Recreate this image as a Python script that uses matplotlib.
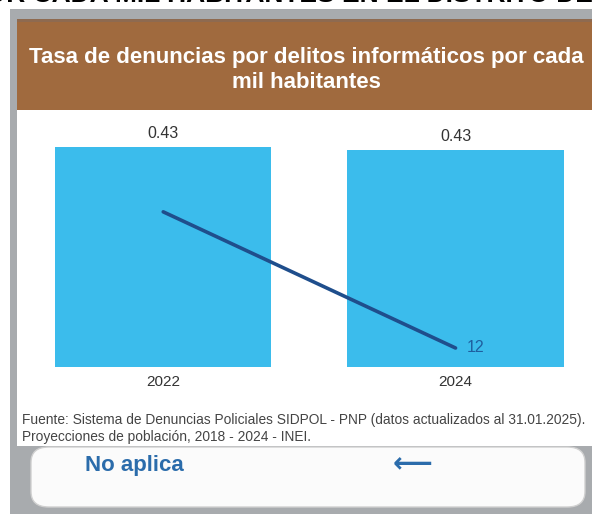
import matplotlib.pyplot as plt
from matplotlib.patches import Rectangle, FancyBboxPatch

years = ['2022', '2024']
tasa = [0.432, 0.426]
tasa_labels = ['0.43', '0.43']
denuncias = [98, 12]

W, H = 592, 514
fig = plt.figure(figsize=(W / 100, H / 100), dpi=100)
fig.patch.set_facecolor('white')
plt.rcParams['font.family'] = ['Liberation Sans', 'DejaVu Sans']


def box(x0, y0, x1, y1, color, **kw):
    # pixel coords, y from top
    r = Rectangle((x0 / W, 1 - y1 / H), (x1 - x0) / W, (y1 - y0) / H,
                  transform=fig.transFigure, facecolor=color, edgecolor='none',
                  zorder=-5, **kw)
    fig.patches.append(r)


# page heading cut off at the top
fig.text(0.5, 1.01, 'S POR CADA MIL HABITANTES EN EL DISTRITO DE ATE', ha='center', va='center',
         fontsize=19, fontweight='bold', color='black')

# gray frame, header and white panel
box(10, 9, W, H, '#a8abae')
box(17, 19, W, 110, '#a06a3e')
box(17, 19, W, 22, '#8e6a50')
box(17, 110, W, 446, 'white')

fig.text(306 / W, 1 - 57 / H, 'Tasa de denuncias por delitos informáticos por cada',
         ha='center', va='center', fontsize=16, fontweight='bold', color='white')
fig.text(306 / W, 1 - 82 / H, 'mil habitantes',
         ha='center', va='center', fontsize=16, fontweight='bold', color='white')

# chart
ax = fig.add_axes([20 / W, 1 - 367 / H, 570 / W, 247 / H])
ax.patch.set_alpha(0)
x = range(len(years))
ax.bar(x, tasa, width=0.74, color='#3bbcec')
for i, v in enumerate(tasa):
    ax.text(i, v + 0.012, tasa_labels[i], ha='center', va='bottom', fontsize=11.5, color='#333333')
ax.set_xlim(-0.49, 1.46)
ax.set_ylim(0, 0.485)
ax.set_xticks(list(x))
ax.set_xticklabels(years, fontsize=11, color='#333333')
ax.tick_params(axis='x', length=0, pad=6)
ax.set_yticks([])
for s in ax.spines.values():
    s.set_visible(False)

ax2 = ax.twinx()
ax2.plot(list(x), denuncias, color='#1f4e8c', linewidth=2.6, solid_capstyle='round')
ax2.text(1 + 0.04, denuncias[1], str(denuncias[1]), ha='left', va='center', fontsize=11.5, color='#1f5f9f')
ax2.set_ylim(0, 156)
ax2.set_yticks([])
for s in ax2.spines.values():
    s.set_visible(False)

# source
fig.text(22 / W, 1 - 420 / H,
         'Fuente: Sistema de Denuncias Policiales SIDPOL - PNP (datos actualizados al 31.01.2025).',
         ha='left', va='center', fontsize=9.9, color='#444444')
fig.text(22 / W, 1 - 437 / H, 'Proyecciones de población, 2018 - 2024 - INEI.',
         ha='left', va='center', fontsize=9.9, color='#444444')

# button
btn = FancyBboxPatch((31 / W, 1 - 507 / H), 554 / W, 60 / H,
                     boxstyle='round,pad=0,rounding_size=0.03', transform=fig.transFigure,
                     facecolor='#fbfbfb', edgecolor='#d0d0d0', linewidth=1, zorder=-4)
fig.patches.append(btn)
fig.text(85 / W, 1 - 466 / H, 'No aplica', ha='left', va='center', fontsize=16,
         fontweight='bold', color='#2b6cab')
fig.text(413 / W, 1 - 464 / H, '⟵', ha='center', va='center', fontsize=20,
         fontweight='bold', color='#2b6cab', family=['DejaVu Sans'])

fig.savefig('out.png', dpi=100, facecolor=fig.get_facecolor())
